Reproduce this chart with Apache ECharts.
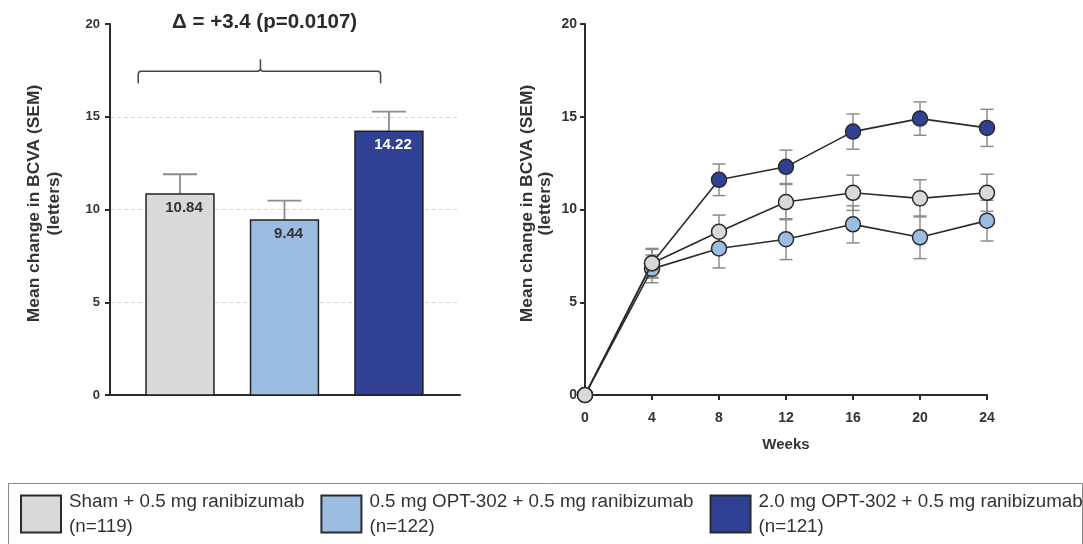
<!DOCTYPE html>
<html>
<head>
<meta charset="utf-8">
<script src="https://cdn.jsdelivr.net/npm/echarts@6/dist/echarts.min.js"></script>
<style>
  html, body { margin: 0; padding: 0; background: #fff; }
  #main { width: 1083px; height: 544px; }
</style>
</head>
<body>
<div id="main"></div>
<script>
// groups (legend + colours)
var groups = ['Sham + 0.5 mg ranibizumab\n(n=119)', '0.5 mg OPT-302 + 0.5 mg ranibizumab\n(n=122)', '2.0 mg OPT-302 + 0.5 mg ranibizumab\n(n=121)'];
var colors = ['#d8d9db', '#9cbde2', '#2f4095'];

// left panel: week 24 mean change
var barPos = [1, 2, 3];
var barMeans = [10.84, 9.44, 14.22];
var barSem = [1.06, 1.04, 1.06];

// right panel: time course
var weeks = [0, 4, 8, 12, 16, 20, 24];
var shamMean = [0, 7.1, 8.8, 10.4, 10.9, 10.6, 10.9];
var shamSem = [0, 0.75, 0.9, 0.95, 0.95, 1.0, 1.0];
var lowMean = [0, 6.8, 7.9, 8.4, 9.2, 8.5, 9.4];
var lowSem = [0, 0.75, 1.05, 1.1, 1.0, 1.15, 1.1];
var highMean = [0, 7.1, 11.6, 12.3, 14.2, 14.9, 14.4];
var highSem = [0, 0.8, 0.85, 0.9, 0.95, 0.9, 1.0];

// bracket annotation (data units of left panel)
var bracketX = [0.6, 1.77, 2.92];
var bracketY = [16.8, 17.45, 18.1];
var deltaText = 'Δ = +3.4 (p=0.0107)';

var FONT = '"Liberation Sans", Arial, sans-serif';
var AXC = '#2b2b2b';
var ERRC = '#8c8c8c';

var chart = echarts.init(document.getElementById('main'));

function yAxisBase(grid, labelSize, margin, gap, lh) {
  return {
    type: 'value', gridIndex: grid, min: 0, max: 20, interval: 5,
    axisLine: { show: true, lineStyle: { color: AXC, width: 2 } },
    axisTick: { show: true, length: 5, lineStyle: { color: AXC, width: 2 } },
    axisLabel: { color: '#333', fontWeight: 'bold', fontSize: labelSize, fontFamily: FONT, margin: margin },
    name: 'Mean change in BCVA (SEM)\n(letters)', nameLocation: 'middle', nameRotate: 90, nameGap: gap,
    nameTextStyle: { color: '#333', fontWeight: 'bold', fontSize: 17.4, fontFamily: FONT, lineHeight: lh,
      align: 'center', padding: [0, 0, 0, 12] }
  };
}

var yLeft = yAxisBase(0, 13, 10, 46, 20);
yLeft.splitLine = { show: true, showMinLine: false, showMaxLine: false, lineStyle: { type: [4, 3], color: '#d6d6d6', width: 1 } };
var yRight = yAxisBase(1, 14, 8, 31, 18);
yRight.splitLine = { show: false };

function lineData(mean) { return weeks.map(function (w, i) { return [w, mean[i]]; }); }
function errData(mean, sem) { return weeks.map(function (w, i) { return [w, mean[i], sem[i]]; }); }

function errRender(params, api) {
  var x = api.value(0), m = api.value(1), e = api.value(2);
  if (!e) return null;
  var hi = api.coord([x, m + e]), lo = api.coord([x, m - e]);
  var cw = 6.5;
  var st = { stroke: ERRC, lineWidth: 1.5 };
  return { type: 'group', children: [
    { type: 'line', shape: { x1: hi[0], y1: hi[1], x2: lo[0], y2: lo[1] }, style: st },
    { type: 'line', shape: { x1: hi[0] - cw, y1: hi[1], x2: hi[0] + cw, y2: hi[1] }, style: st },
    { type: 'line', shape: { x1: lo[0] - cw, y1: lo[1], x2: lo[0] + cw, y2: lo[1] }, style: st }
  ] };
}

function lineSeries(idx, mean, z) {
  return {
    name: groups[idx], type: 'line', xAxisIndex: 1, yAxisIndex: 1,
    data: lineData(mean), symbol: 'circle', symbolSize: 15, z: z,
    itemStyle: { color: colors[idx], borderColor: AXC, borderWidth: 1.5 },
    lineStyle: { color: AXC, width: 1.6 }, emphasis: { disabled: true }
  };
}
function errSeries(mean, sem) {
  return { type: 'custom', xAxisIndex: 1, yAxisIndex: 1, z: 1, silent: true,
    data: errData(mean, sem), renderItem: errRender };
}

var option = {
  animation: false,
  textStyle: { fontFamily: FONT },
  grid: [
    { left: 110, top: 24, width: 350, height: 371 },
    { left: 585, top: 24, width: 402, height: 371 }
  ],
  xAxis: [
    { type: 'value', gridIndex: 0, min: 0.33, max: 3.68,
      axisLine: { show: true, lineStyle: { color: AXC, width: 2 } },
      axisTick: { show: false }, axisLabel: { show: false }, splitLine: { show: false } },
    { type: 'value', gridIndex: 1, min: 0, max: 24, interval: 4,
      axisLine: { show: true, lineStyle: { color: AXC, width: 2 } },
      axisTick: { show: true, length: 5, lineStyle: { color: AXC, width: 2 } },
      axisLabel: { color: '#333', fontWeight: 'bold', fontSize: 14, fontFamily: FONT, margin: 16 },
      splitLine: { show: false },
      name: 'Weeks', nameLocation: 'middle', nameGap: 42,
      nameTextStyle: { color: '#333', fontWeight: 'bold', fontSize: 15, fontFamily: FONT } }
  ],
  yAxis: [yLeft, yRight],
  legend: {
    data: groups, left: 15, top: 484, width: 1100, icon: 'rect', itemWidth: 40, itemHeight: 37, itemGap: 16,
    selectedMode: false,
    textStyle: { color: '#333', fontSize: 18.8, lineHeight: 25, fontFamily: FONT, padding: [0, 0, 0, 3] }
  },
  graphic: [
    { type: 'rect', left: 6, top: 481, shape: { width: 1074, height: 61 },
      style: { fill: 'none', stroke: '#8a8a8a', lineWidth: 1 }, silent: true }
  ],
  series: [
    {
      type: 'custom', xAxisIndex: 0, yAxisIndex: 0, silent: true,
      data: barPos.map(function (p, i) { return [p, barMeans[i], barSem[i]]; }),
      renderItem: function (params, api) {
        var i = params.dataIndex;
        var x = api.value(0), v = api.value(1), e = api.value(2);
        var top = api.coord([x, v]), base = api.coord([x, 0]), et = api.coord([x, v + e]);
        var w = api.size([0.65, 0])[0];
        var st = { stroke: ERRC, lineWidth: 1.8 };
        return { type: 'group', children: [
          { type: 'line', shape: { x1: top[0], y1: top[1], x2: et[0], y2: et[1] }, style: st },
          { type: 'line', shape: { x1: et[0] - w / 4, y1: et[1], x2: et[0] + w / 4, y2: et[1] }, style: st },
          { type: 'rect', shape: { x: top[0] - w / 2, y: top[1], width: w, height: base[1] - top[1] },
            style: { fill: colors[i], stroke: '#222', lineWidth: 1.5 } },
          { type: 'text', x: top[0] + 4, y: top[1] + 14,
            style: { text: v.toFixed(2), fill: i === 2 ? '#fff' : '#333', font: 'bold 15px ' + FONT,
              align: 'center', verticalAlign: 'middle' } }
        ] };
      }
    },
    {
      type: 'custom', xAxisIndex: 0, yAxisIndex: 0, silent: true,
      data: [[bracketX[0], bracketX[1], bracketX[2]]],
      renderItem: function (params, api) {
        var l = api.coord([bracketX[0], bracketY[1]]);
        var r = api.coord([bracketX[2], bracketY[1]]);
        var m = api.coord([bracketX[1], bracketY[1]]);
        var lb = api.coord([bracketX[0], bracketY[0]]);
        var mt = api.coord([bracketX[1], bracketY[2]]);
        var t = api.coord([bracketX[1] + 0.04, 20.1]);
        var rr = 3;
        var path = 'M' + lb[0] + ' ' + lb[1] + ' L' + l[0] + ' ' + (l[1] + rr) +
          ' Q' + l[0] + ' ' + l[1] + ' ' + (l[0] + rr) + ' ' + l[1] +
          ' L' + (m[0] - rr) + ' ' + m[1] + ' Q' + m[0] + ' ' + m[1] + ' ' + m[0] + ' ' + (m[1] - rr) +
          ' L' + mt[0] + ' ' + mt[1] +
          ' M' + m[0] + ' ' + (m[1] - rr) + ' Q' + m[0] + ' ' + m[1] + ' ' + (m[0] + rr) + ' ' + m[1] +
          ' L' + (r[0] - rr) + ' ' + r[1] + ' Q' + r[0] + ' ' + r[1] + ' ' + r[0] + ' ' + (r[1] + rr) +
          ' L' + r[0] + ' ' + lb[1];
        return { type: 'group', children: [
          { type: 'path', shape: { pathData: path }, style: { fill: 'none', stroke: '#444', lineWidth: 1.5 } },
          { type: 'text', x: t[0], y: t[1], style: { text: deltaText, fill: '#2b2b2b',
            font: 'bold 20.5px ' + FONT, align: 'center', verticalAlign: 'middle' } }
        ] };
      }
    },
    errSeries(lowMean, lowSem),
    errSeries(highMean, highSem),
    errSeries(shamMean, shamSem),
    lineSeries(1, lowMean, 3),
    lineSeries(2, highMean, 4),
    lineSeries(0, shamMean, 5)
  ]
};
chart.setOption(option);
</script>
</body>
</html>
